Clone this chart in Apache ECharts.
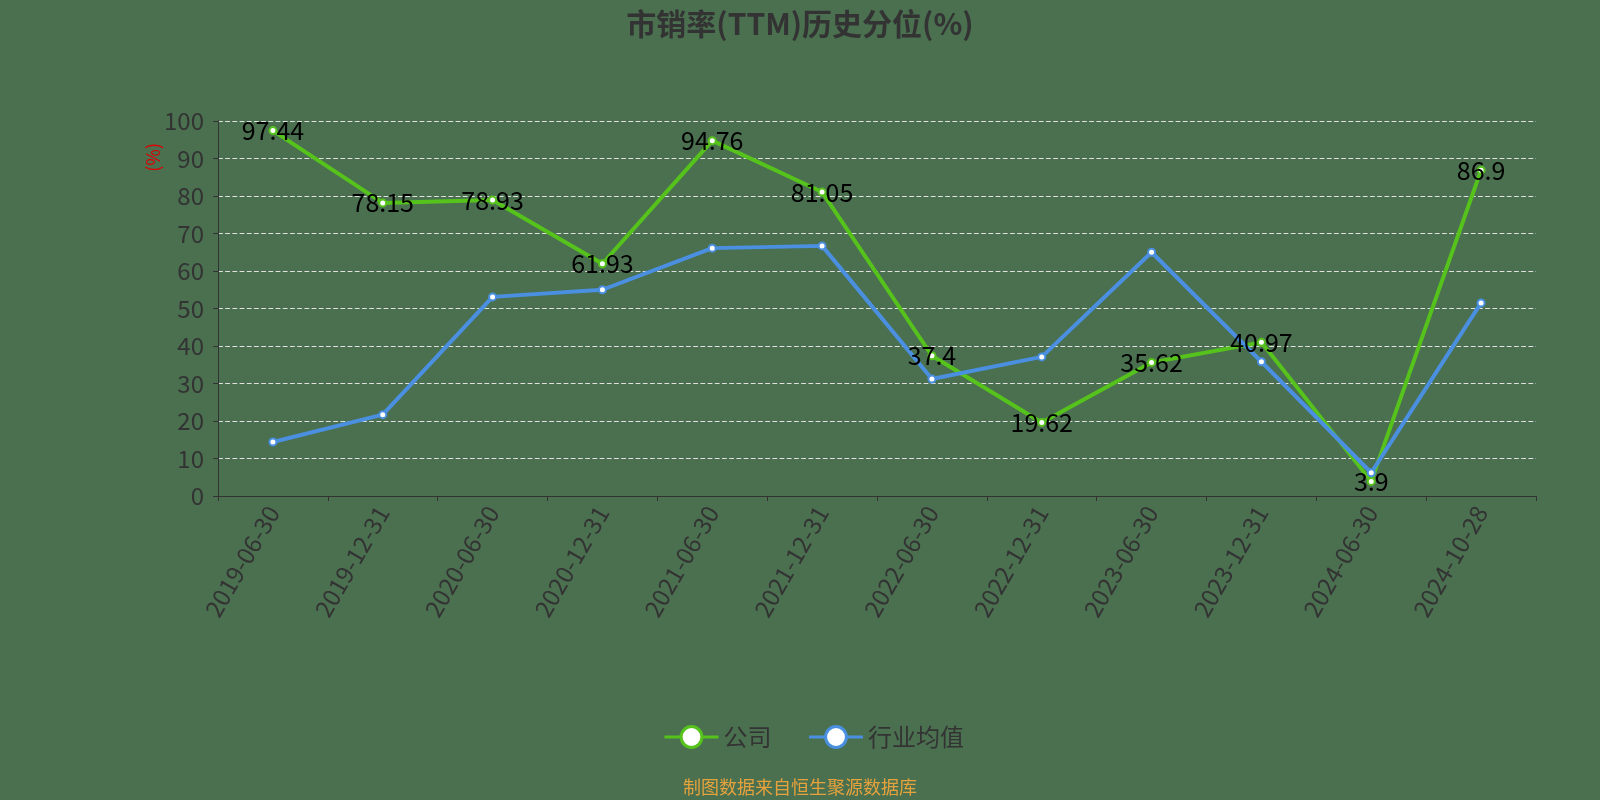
<!DOCTYPE html>
<html>
<head>
<meta charset="utf-8">
<script src="https://cdn.jsdelivr.net/npm/echarts@6/dist/echarts.min.js"></script>
<style>
  html, body { margin: 0; padding: 0; background: #4a7050; }
  #main { width: 1600px; height: 800px; }
</style>
</head>
<body>
<div id="main"></div>
<script>
// 日期
var categories = ["2019-06-30", "2019-12-31", "2020-06-30", "2020-12-31", "2021-06-30", "2021-12-31",
  "2022-06-30", "2022-12-31", "2023-06-30", "2023-12-31", "2024-06-30", "2024-10-28"];
// 公司
var companyValues = [97.44, 78.15, 78.93, 61.93, 94.76, 81.05, 37.4, 19.62, 35.62, 40.97, 3.9, 86.9];
// 行业均值
var industryValues = [14.4, 21.7, 53.1, 55.0, 66.1, 66.7, 31.2, 37.1, 65.0, 35.8, 6.2, 51.5];

var myChart = echarts.init(document.getElementById("main"));
var option = {
  backgroundColor: "#4a7050",
  textStyle: { fontFamily: "Noto Sans CJK SC, sans-serif" },
  title: {
    text: "市销率(TTM)历史分位(%)",
    left: "center",
    top: 4,
    textStyle: { color: "#333", fontSize: 30, fontWeight: "bold" },
  },
  grid: { left: 218, right: 64, top: 121, bottom: 304 },
  legend: {
    bottom: 46,
    left: 658,
    itemWidth: 54,
    itemHeight: 26,
    itemGap: 36,
    lineStyle: { width: 3 },
    itemStyle: { borderWidth: 3 },
    textStyle: { color: "#333", fontSize: 24 },
    data: ["公司", "行业均值"],
  },
  graphic: [
    {
      type: "text",
      left: "center",
      top: 778,
      style: { text: "制图数据来自恒生聚源数据库", fill: "#e6a23c", fontSize: 18, fontFamily: "Noto Sans CJK SC" },
    },
  ],
  xAxis: {
    type: "category",
    data: categories,
    boundaryGap: true,
    axisLine: { lineStyle: { color: "#333" } },
    axisTick: { show: true, lineStyle: { color: "#333" } },
    axisLabel: { color: "#333", fontSize: 24, rotate: 60, margin: 12 },
  },
  yAxis: {
    type: "value",
    min: 0,
    max: 100,
    interval: 10,
    name: "(%)",
    nameLocation: "end",
    nameRotate: 90,
    nameGap: -22,
    nameTextStyle: { color: "#d00", fontSize: 18, align: "right", verticalAlign: "bottom", padding: [0, 0, 56, 0] },
    axisLine: { show: true, lineStyle: { color: "#333" } },
    axisTick: { show: true, lineStyle: { color: "#333" } },
    axisLabel: { color: "#333", fontSize: 24, margin: 14 },
    splitLine: { lineStyle: { type: "dashed", color: "#e0e0e0", width: 1.2 } },
  },
  series: [
    {
      name: "公司",
      type: "line",
      data: companyValues,
      symbol: "circle",
      symbolSize: 7,
      lineStyle: { width: 4, color: "#56c21c" },
      itemStyle: { color: "#fff", borderColor: "#56c21c", borderWidth: 2 },
      label: { show: true, position: "inside", color: "#000", fontSize: 25 },
    },
    {
      name: "行业均值",
      type: "line",
      data: industryValues,
      symbol: "circle",
      symbolSize: 7,
      lineStyle: { width: 4, color: "#4a8fe0" },
      itemStyle: { color: "#fff", borderColor: "#4a8fe0", borderWidth: 2 },
    },
  ],
};
option && myChart.setOption(option);
</script>
</body>
</html>
